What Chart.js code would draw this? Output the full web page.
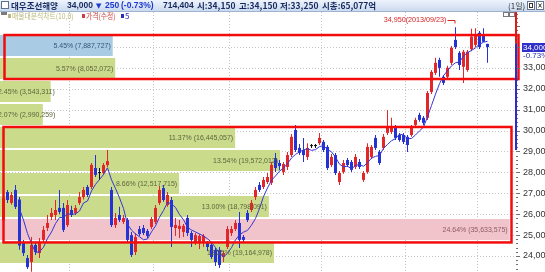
<!DOCTYPE html>
<html><head><meta charset="utf-8">
<script src="https://cdn.jsdelivr.net/npm/chart.js@4.4.0/dist/chart.umd.min.js"></script>
<style>html,body{margin:0;padding:0;background:#fff;overflow:hidden}canvas{display:block}</style>
</head><body>
<canvas id="c" width="545" height="272"></canvas>
<script>
// Daily candles, trading-day index 0..121 (mid-April .. early October 2013)
const opens = [25700,27060,26540,27160,26700,24620,23900,23710,24530,24140,
 24770,25340,25870,25960,26300,26300,25480,26200,26060,26540,
 26820,27300,27300,28210,27970,27970,28350,27160,25480,25960,
 25630,25720,25000,24190,25290,25340,25200,25390,25630,26540,
 27250,26440,26680,25340,25290,25150,25820,25100,24670,24620,
 24620,24620,24530,24290,24290,23950,24430,25100,25290,25580,
 24910,26060,26200,26820,27400,27300,27540,27500,28690,28450,
 28020,28260,28830,30030,29170,29070,28740,29260,29260,29400,
 29460,29220,28350,28830,27540,28020,28590,28500,28260,28500,
 27640,28020,28740,29650,28980,29170,29890,29940,30130,29790,
 29790,29700,29790,30270,30750,30610,30610,31850,32760,33380,
 32570,32570,33240,34340,33720,33050,32900,33900,34100,34680,
 34600,34150];
const highs = [26950,27160,27060,27400,26820,24770,24050,24910,24620,24860,
 25440,25960,26300,26680,27160,26540,26680,26400,26440,27060,
 27300,27400,28450,28830,28210,28450,29070,27300,26060,26350,
 25960,25820,25150,25100,25440,25480,25290,25870,26440,27350,
 27400,27060,26820,25820,25720,25530,25960,25200,25100,25050,
 25050,24720,24620,24380,24430,24240,25440,25440,25720,26100,
 25000,26200,26680,27300,27540,27780,27970,28500,28930,28590,
 28500,28980,29840,30270,29360,29650,29400,29360,29360,29890,
 29550,29310,28880,28930,28070,28590,28690,28590,28880,28640,
 28070,29400,29310,29790,29070,29840,30990,30610,30270,29890,
 29890,29790,30270,30610,30850,30700,31900,32900,33480,33480,
 32660,33100,34050,34950,33810,33860,33860,34870,34900,34770,
 34900,34150];
const lows = [25600,26540,26450,26250,24300,24000,23380,23250,24050,23900,
 24670,25200,25720,25720,26000,25150,25390,25870,25960,26440,
 26700,26820,27200,27780,27640,27880,28260,25390,25340,25630,
 25530,24670,23950,24050,24960,25000,24860,25290,25530,26440,
 26590,26350,24430,24960,24860,24910,24960,24430,24530,24330,
 24430,24240,23860,23520,23430,23710,24330,24960,25200,24380,
 24670,25630,26100,26680,27060,27200,27450,27400,28020,28120,
 27880,28120,28740,28980,28830,28500,28590,29170,29170,29310,
 28980,28120,28260,27880,27400,27930,28260,28020,28160,28160,
 27540,27930,28640,29070,28350,29070,29790,29840,29550,29460,
 29360,28980,29700,30180,30420,30270,30510,31750,32660,32570,
 32180,32470,33140,33900,32900,32280,32810,33800,34000,33900,
 34240,33250];
const closes = [26780,26680,26920,26350,24500,24140,23470,24530,24190,24670,
 25250,25580,26060,26200,26110,25250,26440,25960,26300,26820,
 27160,26920,28360,27880,27970,28350,28540,25480,25820,25720,
 25820,24770,24050,24910,25050,25100,24960,25770,26300,27160,
 26680,26920,25390,25480,25440,25440,25100,24770,25000,24960,
 24960,24430,23950,23710,23570,24140,25290,25290,25580,24770,
 24770,25720,26540,27160,27160,27640,27780,28360,28210,28300,
 28400,28830,29700,29070,28930,28830,29170,29260,29260,29650,
 29070,28210,28740,27970,27970,28450,28350,28120,28740,28260,
 27970,29220,29220,29170,28450,29700,30130,30130,29650,29550,
 29460,29310,30130,30510,30510,30370,31800,32810,33240,33000,
 32280,33000,33960,34000,33140,33770,33770,34500,34620,34000,
 34250,34000];

// first trading day of each month (boundary between candles)
const monthBreaks = [16.5, 37.5, 56.5, 79.5, 100.5, 118.5];
// price axis labels
const yTickValues = [24000,25000,26000,27000,28000,29000,30000,31000,32000,33000,34000];

// volume-at-price bands (10 bands), listed bottom to top
const bandBase = 23620;
const bandStep = 1100;
const bandPct = [13.25, 24.64, 13.00, 8.66, 13.54, 11.37, 2.07, 2.45, 5.57, 5.45];
const bandVolume = [19164978, 35633575, 18798091, 12517715, 19572012, 16445057, 2990259, 3543311, 8052072, 7887727];

// quote header
const stockName = '대우조선해양';
const lastPrice = 34000, change = -250, changePct = -0.73, tradeVolume = 714404;
const dayOpen = 34150, dayHigh = 34150, dayLow = 33250, marketCap = '65,077억';
const highDate = '2013/09/23';
const markerLow = 29070;

const UP = '#e3262a', DOWN = '#2533d4', FLAT = '#111111';
const GREEN = '#cadb8c', BLUEBAND = '#a9cbe4', PINK = '#f1c3cb';
const bandColors = bandPct.map((p, k) => {
  const lo = bandBase + bandStep * k, hi = lo + bandStep;
  if (lastPrice >= lo && lastPrice < hi) return BLUEBAND;
  if (p === Math.max(...bandPct)) return PINK;
  return GREEN;
});
const bandTextColors = bandColors.map(c => c === BLUEBAND ? '#3a5478' : c === PINK ? '#8d5b68' : '#5c653c');

const idx = closes.map((_, i) => i);
const wickData = idx.map(i => ({ x: i, y: [lows[i], highs[i]] }));
const bodyData = idx.map(i => ({ x: i, y: [opens[i], closes[i]] }));
const candleColors = idx.map(i => closes[i] > opens[i] ? UP : closes[i] < opens[i] ? DOWN : FLAT);
// 5-day moving average of closes
const ma5 = idx.map(i => i < 4 ? null : closes.slice(i - 4, i + 1).reduce((s, v) => s + v, 0) / 5);
const maData = idx.map(i => ({ x: i, y: ma5[i] }));
const profileData = bandPct.map((p, k) => ({ x: p, y: bandBase + bandStep * (k + 0.5) }));

const Y_MIN = 23234, Y_MAX = 35674;
const fmt = v => v.toLocaleString('en-US');

function txt(ctx, s, x, y, font, color, align, sx) {
  ctx.save();
  ctx.font = font; ctx.fillStyle = color; ctx.textBaseline = 'middle'; ctx.textAlign = align || 'left';
  ctx.translate(x, y); ctx.scale(sx || 1, 1); ctx.fillText(s, 0, 0);
  ctx.restore();
}
function seg(ctx, x1, y1, x2, y2) { ctx.beginPath(); ctx.moveTo(x1, y1); ctx.lineTo(x2, y2); ctx.stroke(); }

const decor = {
  id: 'decor',
  beforeDatasetsDraw(chart) {
    const { ctx, chartArea: a, scales: { x, y } } = chart;
    ctx.save();
    ctx.strokeStyle = '#c6c6c6'; ctx.lineWidth = 1; ctx.setLineDash([1, 2]);
    yTickValues.forEach(v => { const py = Math.round(y.getPixelForValue(v)) + 0.5; seg(ctx, a.left, py, a.right, py); });
    monthBreaks.forEach(m => { const px = Math.round(x.getPixelForValue(m)) - 0.5; seg(ctx, px, a.top, px, a.bottom); });
    ctx.restore();
  },
  afterDatasetsDraw(chart) {
    const { ctx, chartArea: a, scales: { x, y } } = chart;
    // band labels
    const meta = chart.getDatasetMeta(3);
    const SX = 0.87, F = '8px "Liberation Sans"';
    ctx.save();
    ctx.beginPath(); ctx.rect(a.left, a.top, a.right - a.left, a.bottom - a.top); ctx.clip();
    meta.data.forEach((bar, k) => {
      const s = bandPct[k].toFixed(2) + '% (' + fmt(bandVolume[k]) + ')';
      ctx.font = F;
      const w = ctx.measureText(s).width * SX;
      const right = Math.max(bar.x - 2, a.left + w - 2);
      txt(ctx, s, right, bar.y + 0.5, F, bandTextColors[k], 'right', SX);
    });
    ctx.restore();

    // highlighted price zones
    ctx.save();
    ctx.strokeStyle = '#f20c0c'; ctx.lineWidth = 2.5;
    const edge = k => y.getPixelForValue(bandBase + bandStep * k);
    ctx.strokeRect(a.left + 4.5, edge(10) + 1, a.right - a.left - 1, edge(8) - edge(10) - 2);
    ctx.strokeRect(a.left + 3.5, edge(6) + 1, a.right - a.left - 7, edge(1) - edge(6) + 0.5);
    ctx.restore();

    // period high marker
    let hi = 0; highs.forEach((v, i) => { if (v > highs[hi]) hi = i; });
    const hx = x.getPixelForValue(hi), hy = y.getPixelForValue(highs[hi]);
    const ty = hy - 7;
    txt(ctx, fmt(highs[hi]) + '(' + highDate + ')', hx - 9, ty, '8px "Liberation Sans"', '#d9211f', 'right', 0.9);
    ctx.save(); ctx.strokeStyle = '#d9211f'; ctx.lineWidth = 1;
    ctx.beginPath(); ctx.moveTo(hx - 8, Math.round(ty) + 0.5); ctx.lineTo(hx - 0.5, Math.round(ty) + 0.5); ctx.lineTo(hx - 0.5, Math.round(ty) + 3.5); ctx.stroke();
    ctx.restore();
  },
  afterDraw(chart) {
    const { ctx, chartArea: a, scales: { y } } = chart;
    const W = chart.width;
    // quote header bar
    const g = ctx.createLinearGradient(0, 0, 0, 11);
    g.addColorStop(0, '#eef4fc'); g.addColorStop(1, '#cbdaef');
    ctx.fillStyle = g; ctx.fillRect(0, 0, W, 11);
    ctx.fillStyle = '#9fb2d0'; ctx.fillRect(0, 11, W, 1);
    ctx.fillStyle = '#fff'; ctx.fillRect(1.5, 1.5, 7, 7);
    ctx.strokeStyle = '#60708f'; ctx.lineWidth = 1; ctx.strokeRect(1.5, 1.5, 7, 7);
    const NAVY = '#17295f', HB = 'bold 8.5px "Noto Sans CJK KR"', NB = 'bold 8.5px "Liberation Sans"';
    txt(ctx, stockName, 11, 6, HB, NAVY);
    txt(ctx, fmt(lastPrice), 67, 6, NB, NAVY);
    txt(ctx, '▼', 96, 6, '7px "DejaVu Sans"', '#1c3ad0');
    txt(ctx, fmt(Math.abs(change)), 105, 6, NB, '#1c3ad0');
    txt(ctx, '(' + changePct.toFixed(2) + '%)', 121, 6, NB, '#1c3ad0');
    txt(ctx, fmt(tradeVolume), 163, 6, NB, NAVY);
    txt(ctx, '시:' + fmt(dayOpen), 197, 6, HB, NAVY);
    txt(ctx, '고:' + fmt(dayHigh), 239, 6, HB, NAVY);
    txt(ctx, '저:' + fmt(dayLow), 280, 6, HB, NAVY);
    txt(ctx, '시총:' + marketCap, 322, 6, HB, NAVY);
    txt(ctx, '(1일)', 508, 6, '8px "Noto Sans CJK KR"', '#333');
    ctx.fillStyle = '#fff'; ctx.fillRect(527.5, 1.5, 7, 8); ctx.fillRect(536.5, 1.5, 7, 8);
    ctx.strokeStyle = '#6a7690'; ctx.strokeRect(527.5, 1.5, 7, 8); ctx.strokeRect(536.5, 1.5, 7, 8);
    ctx.strokeStyle = '#333'; ctx.strokeRect(529.5, 3.5, 3, 4);
    seg(ctx, 538.5, 3.5, 541.5, 7.5); seg(ctx, 541.5, 3.5, 538.5, 7.5);

    // legend row
    ctx.fillStyle = '#7b7b7b'; ctx.fillRect(1, 12, 6, 3);
    const LF = '8px "Noto Sans CJK KR"';
    ctx.fillStyle = '#b9b77c'; ctx.fillRect(8, 14, 3, 4);
    txt(ctx, '매물대분석차트(10,0)', 12, 16, LF, '#b9b77c', 'left', 0.85);
    ctx.fillStyle = '#c9403f'; ctx.fillRect(82, 14, 3, 4);
    txt(ctx, '가격(수정)', 86, 16, LF, '#c9403f', 'left', 0.85);
    ctx.fillStyle = '#2d2db8'; ctx.fillRect(121, 14, 3, 4);
    txt(ctx, '5', 125, 16, LF, '#2d2db8');
    // small window icons
    ctx.strokeStyle = '#7a7a7a'; ctx.strokeRect(503.5, 12.5, 5, 4); ctx.strokeRect(509.5, 12.5, 5, 4);

    // price axis ticks
    ctx.save(); ctx.strokeStyle = '#6e6e6e'; ctx.lineWidth = 1;
    for (let v = 23400; v <= 35600; v += 200) {
      const py = Math.round(y.getPixelForValue(v)) + 0.5;
      seg(ctx, a.right + 1, py, a.right + (v % 1000 === 0 ? 5 : 3), py);
    }
    ctx.restore();
    // range marker along the axis
    ctx.save(); ctx.lineWidth = 2;
    ctx.strokeStyle = '#e01818'; seg(ctx, a.right + 1, a.top, a.right + 1, y.getPixelForValue(dayOpen));
    ctx.strokeStyle = '#2b2bd0'; seg(ctx, a.right + 1, y.getPixelForValue(dayOpen), a.right + 1, y.getPixelForValue(markerLow));
    ctx.restore();
    // current price tag
    const cy = y.getPixelForValue(lastPrice);
    ctx.fillStyle = '#2f2fcc'; ctx.fillRect(522, Math.round(cy) - 4, 23, 9);
    txt(ctx, fmt(lastPrice), 523, cy + 0.5, '8px "Liberation Sans"', '#ffffff');
    txt(ctx, changePct.toFixed(2) + '%', 523, cy + 9, '8px "Liberation Sans"', '#2430a8');
  }
};

Chart.defaults.font.family = '"Liberation Sans", sans-serif';
new Chart(document.getElementById('c'), {
  type: 'bar',
  data: {
    datasets: [
      { type: 'line', label: '5', data: maData, borderColor: '#3535d6', borderWidth: 1, pointRadius: 0, tension: 0, xAxisID: 'x', yAxisID: 'y', order: 0 },
      { label: '가격(수정)', data: bodyData, backgroundColor: candleColors, barThickness: 3, minBarLength: 1, grouped: false, inflateAmount: 0, xAxisID: 'x', yAxisID: 'y', order: 1 },
      { label: 'wick', data: wickData, backgroundColor: candleColors, barThickness: 1, grouped: false, inflateAmount: 0, xAxisID: 'x', yAxisID: 'y', order: 2 },
      { label: '매물대분석차트', indexAxis: 'y', data: profileData, backgroundColor: bandColors, barThickness: 21, grouped: false, inflateAmount: 0, xAxisID: 'xp', yAxisID: 'yp', order: 3 }
    ]
  },
  options: {
    responsive: false,
    animation: false,
    layout: { padding: { top: 12, left: 0, right: 0, bottom: 0 } },
    plugins: { legend: { display: false }, tooltip: { enabled: false } },
    scales: {
      x: { type: 'linear', min: -0.875, max: 127.875, offset: false, display: false },
      xp: { type: 'linear', min: 0, max: 24.9, offset: false, display: false },
      yp: { type: 'linear', min: Y_MIN, max: Y_MAX, offset: false, display: false },
      y: {
        type: 'linear', position: 'right', min: Y_MIN, max: Y_MAX, offset: false,
        afterFit: s => { s.width = 30; s.paddingTop = 0; s.paddingBottom = 0; },
        afterBuildTicks: s => { s.ticks = yTickValues.map(v => ({ value: v })); },
        grid: { display: false, drawTicks: false },
        border: { display: false },
        ticks: { padding: 8, color: '#333', font: { size: 9 }, callback: v => v === lastPrice ? '' : fmt(v) }
      }
    }
  },
  plugins: [decor]
});
</script>
</body></html>
